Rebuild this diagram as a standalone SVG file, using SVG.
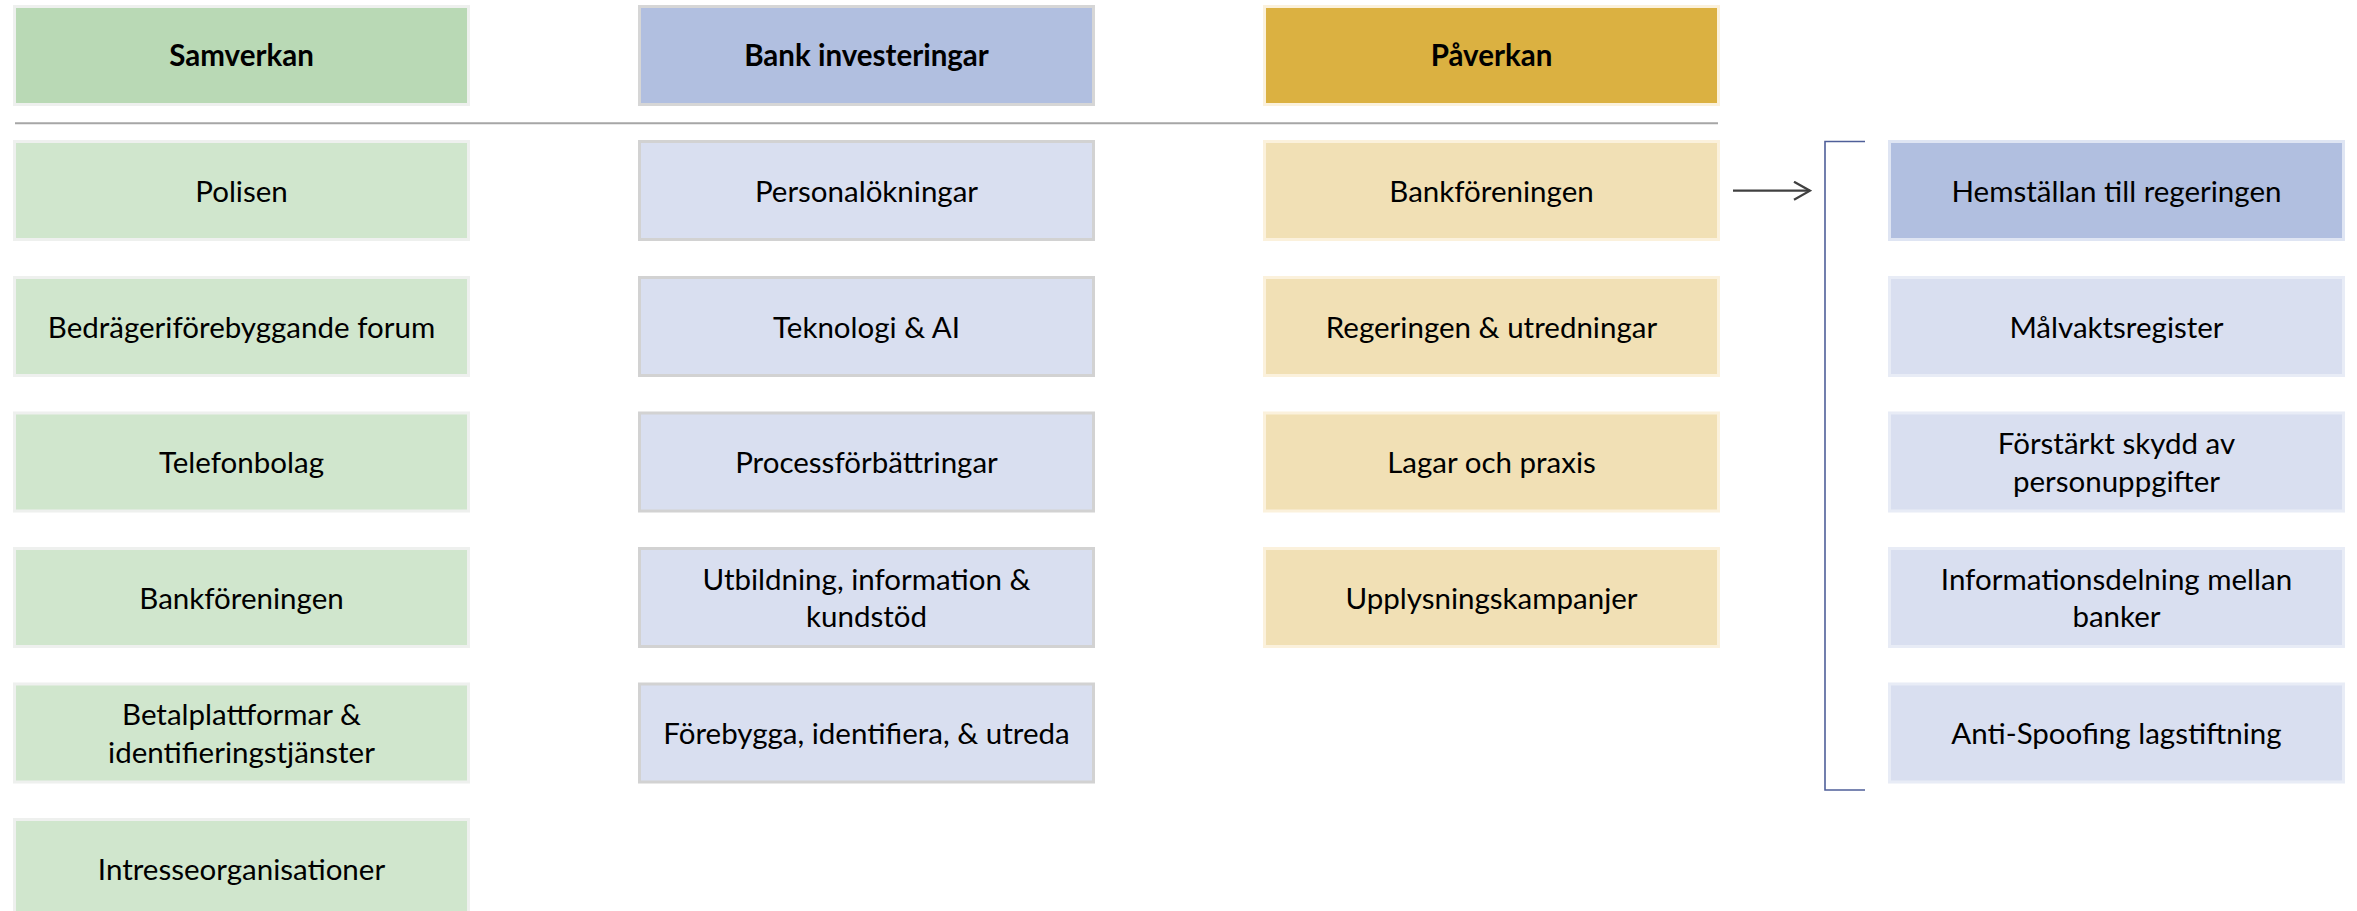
<svg xmlns="http://www.w3.org/2000/svg" width="2357" height="911" viewBox="0 0 2357 911">
<style>
  text { font-family: Lato, "Liberation Sans", sans-serif; font-size: 29.5px; fill: #000; text-anchor: middle; }
  .hd { font-weight: bold; font-size: 29.5px; }
  .b { stroke-width: 3; }
  .g-h { fill: #b9d9b5; stroke: #eef0ee; }
  .g { fill: #d0e6cd; stroke: #eef0ee; }
  .bl-h { fill: #b1bfe0; stroke: #d6d6d6; }
  .bl { fill: #d9dff0; stroke: #d2d2d2; }
  .y-h { fill: #dbb141; stroke: #fbf1dc; }
  .y { fill: #f1e0b5; stroke: #fbf1dc; }
  .r-h { fill: #b1bfe0; stroke: #dfe5f3; }
  .r { fill: #d9dff0; stroke: #e8ecf6; }
</style>
<defs>
  <marker id="arr" viewBox="0 0 20 20" refX="18" refY="10" markerWidth="20" markerHeight="20" markerUnits="userSpaceOnUse" orient="auto">
    <path d="M2,1 L18,10 L2,19" fill="none" stroke="#404040" stroke-width="2.2"/>
  </marker>
</defs>
<rect width="2357" height="911" fill="#fff"/>

<g id="connectors">
  <line id="separator" x1="15" y1="123.3" x2="1718" y2="123.3" stroke="#a6a6a6" stroke-width="2"/>
  <line id="arrow" x1="1733" y1="190.7" x2="1810" y2="190.7" stroke="#404040" stroke-width="2.2" marker-end="url(#arr)"/>
  <path id="bracket" d="M1865,141.5 H1825 V790 H1865" fill="none" stroke="#4f5f99" stroke-width="1.6"/>
</g>

<!-- Column 1 -->
<g id="samverkan"><rect class="b g-h" x="14.5" y="6.5" width="454" height="98"/><text class="hd" x="241.5" y="66">Samverkan</text></g>
<g id="polisen"><rect class="b g" x="14.5" y="141.5" width="454" height="98"/><text x="241.5" y="201.5">Polisen</text></g>
<g id="bedrageri"><rect class="b g" x="14.5" y="277.5" width="454" height="98"/><text x="241.5" y="337.5">Bedrägeriförebyggande forum</text></g>
<g id="telefonbolag"><rect class="b g" x="14.5" y="413" width="454" height="98"/><text x="241.5" y="473">Telefonbolag</text></g>
<g id="bankforeningen1"><rect class="b g" x="14.5" y="548.5" width="454" height="98"/><text x="241.5" y="608.5">Bankföreningen</text></g>
<g id="betalplattformar"><rect class="b g" x="14.5" y="684" width="454" height="98"/><text x="241.5" y="725">Betalplattformar &amp;</text><text x="241.5" y="762.5">identifieringstjänster</text></g>
<g id="intresseorganisationer"><rect class="b g" x="14.5" y="819.5" width="454" height="98"/><text x="241.5" y="879.5">Intresseorganisationer</text></g>

<!-- Column 2 -->
<g id="bankinvesteringar"><rect class="b bl-h" x="639.5" y="6.5" width="454" height="98"/><text class="hd" x="866.5" y="66">Bank investeringar</text></g>
<g id="personalokningar"><rect class="b bl" x="639.5" y="141.5" width="454" height="98"/><text x="866.5" y="201.5">Personalökningar</text></g>
<g id="teknologi"><rect class="b bl" x="639.5" y="277.5" width="454" height="98"/><text x="866.5" y="337.5">Teknologi &amp; AI</text></g>
<g id="process"><rect class="b bl" x="639.5" y="413" width="454" height="98"/><text x="866.5" y="473">Processförbättringar</text></g>
<g id="utbildning"><rect class="b bl" x="639.5" y="548.5" width="454" height="98"/><text x="866.5" y="589.5">Utbildning, information &amp;</text><text x="866.5" y="627">kundstöd</text></g>
<g id="forebygga"><rect class="b bl" x="639.5" y="684" width="454" height="98"/><text x="866.5" y="744">Förebygga, identifiera, &amp; utreda</text></g>

<!-- Column 3 -->
<g id="paverkan"><rect class="b y-h" x="1264.5" y="6.5" width="454" height="98"/><text class="hd" x="1491.5" y="66">Påverkan</text></g>
<g id="bankforeningen2"><rect class="b y" x="1264.5" y="141.5" width="454" height="98"/><text x="1491.5" y="201.5">Bankföreningen</text></g>
<g id="regeringen"><rect class="b y" x="1264.5" y="277.5" width="454" height="98"/><text x="1491.5" y="337.5">Regeringen &amp; utredningar</text></g>
<g id="lagar"><rect class="b y" x="1264.5" y="413" width="454" height="98"/><text x="1491.5" y="473">Lagar och praxis</text></g>
<g id="upplysning"><rect class="b y" x="1264.5" y="548.5" width="454" height="98"/><text x="1491.5" y="608.5">Upplysningskampanjer</text></g>

<!-- Column 4 -->
<g id="hemstallan"><rect class="b r-h" x="1889.5" y="141.5" width="454" height="98"/><text x="2116.5" y="201.5">Hemställan till regeringen</text></g>
<g id="malvakt"><rect class="b r" x="1889.5" y="277.5" width="454" height="98"/><text x="2116.5" y="337.5">Målvaktsregister</text></g>
<g id="forstarkt"><rect class="b r" x="1889.5" y="413" width="454" height="98"/><text x="2116.5" y="454">Förstärkt skydd av</text><text x="2116.5" y="491.5">personuppgifter</text></g>
<g id="informationsdelning"><rect class="b r" x="1889.5" y="548.5" width="454" height="98"/><text x="2116.5" y="589.5">Informationsdelning mellan</text><text x="2116.5" y="627">banker</text></g>
<g id="antispoofing"><rect class="b r" x="1889.5" y="684" width="454" height="98"/><text x="2116.5" y="744">Anti-Spoofing lagstiftning</text></g>
</svg>
